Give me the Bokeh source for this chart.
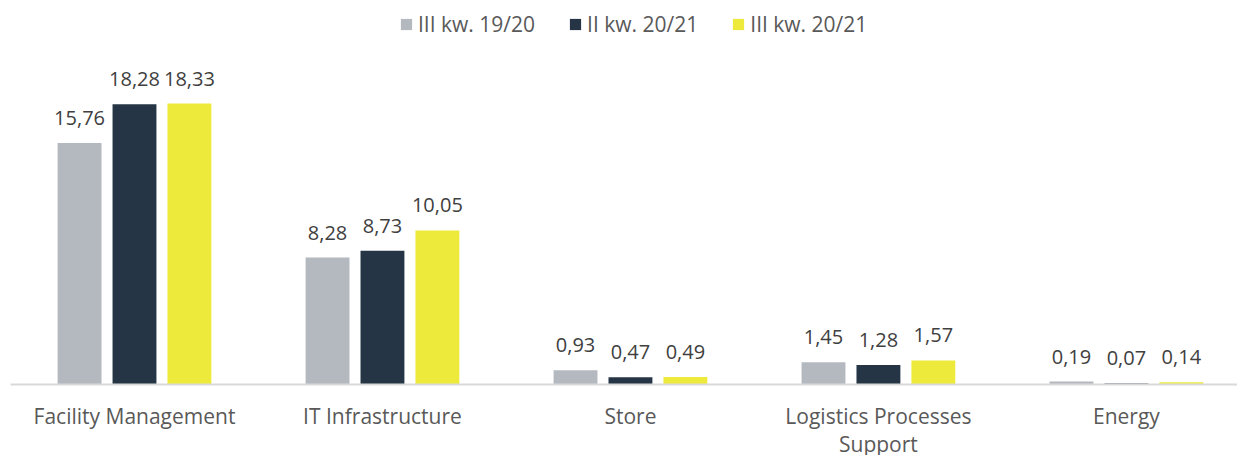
from bokeh.plotting import figure
from bokeh.models import ColumnDataSource, Range1d, FixedTicker, Legend, LegendItem
from bokeh.core.properties import value
from bokeh.embed import file_html
from bokeh.resources import INLINE

categories = ["Facility Management", "IT Infrastructure", "Store", "Logistics Processes\nSupport", "Energy"]
series_names = ["III kw. 19/20", "II kw. 20/21", "III kw. 20/21"]
s_2019_q3 = [15.76, 8.28, 0.93, 1.45, 0.19]
s_2020_q2 = [18.28, 8.73, 0.47, 1.28, 0.07]
s_2020_q3 = [18.33, 10.05, 0.49, 1.57, 0.14]

colors = ["#b4b8bf", "#253545", "#eeea3c"]
FONT = "Open Sans"

p = figure(frame_width=1227, frame_height=384, output_backend="svg", toolbar_location=None,
           x_range=Range1d(0, 4.948), y_range=Range1d(0, 25.05),
           min_border_left=10, min_border_right=0, min_border_top=0, min_border_bottom=0)
p.outline_line_color = None
p.xgrid.visible = False
p.ygrid.visible = False
p.yaxis.visible = False

centers = [i + 0.5 for i in range(len(categories))]
offsets = [-0.2215, 0.0, 0.2215]
renderers = []
for vals, off, col in zip([s_2019_q3, s_2020_q2, s_2020_q3], offsets, colors):
    xs = [c + off for c in centers]
    src = ColumnDataSource(dict(x=xs, top=vals,
                                lab=[f"{v:.2f}".replace(".", ",") for v in vals]))
    r = p.vbar(x="x", top="top", bottom=0, width=0.177, source=src,
               fill_color=col, line_color=None)
    renderers.append(r)
    p.text(x="x", y="top", text="lab", source=src, text_align="center",
           text_baseline="alphabetic", y_offset=-25, text_font=value(FONT),
           text_font_size="20px", text_color="#404040")

xa = p.xaxis[0]
xa.ticker = FixedTicker(ticks=centers)
xa.major_label_overrides = {c: lab for c, lab in zip(centers, categories)}
xa.axis_line_color = "#d9d9d9"
xa.axis_line_width = 2
xa.major_tick_line_color = None
xa.minor_tick_line_color = None
xa.major_label_text_font = FONT
xa.major_label_text_font_size = "21px"
xa.major_label_text_color = "#595959"
xa.major_label_text_line_height = 1.0
xa.major_label_standoff = 11

legend = Legend(items=[LegendItem(label=n, renderers=[r]) for n, r in zip(series_names, renderers)],
                orientation="horizontal", location=(389, 346),
                glyph_width=14, glyph_height=14, label_standoff=5, spacing=33,
                label_text_font=FONT, label_text_font_size="21px", label_text_color="#595959",
                background_fill_alpha=0, border_line_alpha=0, padding=0, margin=0)
p.add_layout(legend, "center")

open("out.html", "w").write(file_html(p, INLINE))
